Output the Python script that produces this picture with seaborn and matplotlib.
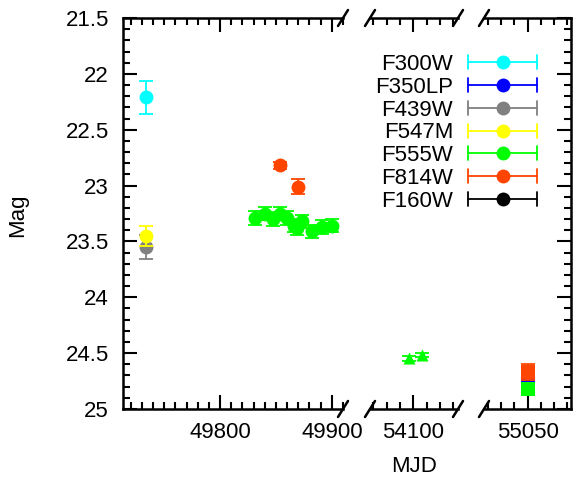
import matplotlib
matplotlib.use("Agg")
import matplotlib.pyplot as plt
import seaborn as sns
import numpy as np
from matplotlib.lines import Line2D
from matplotlib.legend_handler import HandlerBase
from matplotlib.ticker import MultipleLocator

# ---------------- data ----------------
filters = ["F300W", "F350LP", "F439W", "F547M", "F555W", "F814W", "F160W"]
colors = ["#00FFFF", "#0000FF", "#808080", "#FFFF00", "#00FF00", "#FF4500", "#000000"]

# circles (HST/WFPC2 era)
f300w_mjd = [49734]
f300w_mag = [22.21]
f300w_err = [0.145]

f439w_mjd = [49734]
f439w_mag = [23.55]
f439w_err = [0.11]

f547m_mjd = [49734]
f547m_mag = [23.45]
f547m_err = [0.09]

f555w_mjd = [49831, 49840, 49847, 49854, 49860, 49866, 49869, 49873, 49882, 49891, 49900]
f555w_mag = [23.29, 23.25, 23.30, 23.25, 23.29, 23.36, 23.38, 23.32, 23.41, 23.37, 23.36]
f555w_err = [0.06, 0.06, 0.06, 0.06, 0.06, 0.06, 0.06, 0.06, 0.06, 0.06, 0.06]

f814w_mjd = [49854, 49870]
f814w_mag = [22.82, 23.01]
f814w_err = [0.035, 0.065]

# triangles (ACS era)
f555w_tri_mjd = [54097, 54106.3]
f555w_tri_mag = [24.547, 24.517]
f555w_tri_err = [0.02, 0.02]

# squares (WFC3 era)
f350lp_sq_mjd = [55050]
f350lp_sq_mag = [24.795]
f350lp_sq_err = [0.03]

f555w_sq_mjd = [55050]
f555w_sq_mag = [24.82]
f555w_sq_err = [0.03]

f814w_sq_mjd = [55050]
f814w_sq_mag = [24.67]
f814w_sq_err = [0.07]

f160w_mjd = []
f160w_mag = []
f160w_err = []

y_ticks = [21.5, 22, 22.5, 23, 23.5, 24, 24.5, 25]
y_tick_labels = ["21.5", "22", "22.5", "23", "23.5", "24", "24.5", "25"]

# ---------------- style ----------------
sns.set_theme(style="ticks")
plt.rcParams['font.family'] = ['Liberation Sans', 'DejaVu Sans']
plt.rcParams['font.size'] = 16
for k in ["text.color", "axes.labelcolor", "xtick.color", "ytick.color", "axes.edgecolor"]:
    plt.rcParams[k] = "black"

W, H = 574, 479
fig = plt.figure(figsize=(W / 100, H / 100), dpi=100)
fig.patch.set_facecolor("white")

top_px, bot_px = 18, 409
panels = [(123, 343, 49713, 49910), (370, 458, 54067.5, 54133.6), (484, 571, 55017.3, 55082.7)]
axes = []
for (x0, x1, m0, m1) in panels:
    ax = fig.add_axes([x0 / W, 1 - bot_px / H, (x1 - x0) / W, (bot_px - top_px) / H])
    ax.set_xlim(m0, m1)
    ax.set_ylim(25, 21.5)
    ax.set_facecolor("white")
    axes.append(ax)

ax1, ax2, ax3 = axes

series = [
    # (mjd, mag, err, color, marker, size)
    (f300w_mjd, f300w_mag, f300w_err, colors[0], "o", 100),
    (f350lp_sq_mjd, f350lp_sq_mag, f350lp_sq_err, colors[1], "s", 115),
    (f439w_mjd, f439w_mag, f439w_err, colors[2], "o", 100),
    (f547m_mjd, f547m_mag, f547m_err, colors[3], "o", 100),
    (f555w_mjd, f555w_mag, f555w_err, colors[4], "o", 100),
    (f555w_tri_mjd, f555w_tri_mag, f555w_tri_err, colors[4], "^", 75),
    (f555w_sq_mjd, f555w_sq_mag, f555w_sq_err, colors[4], "s", 115),
    (f814w_mjd, f814w_mag, f814w_err, colors[5], "o", 100),
    (f814w_sq_mjd, f814w_sq_mag, f814w_sq_err, colors[5], "s", 115),
    (f160w_mjd, f160w_mag, f160w_err, colors[6], "o", 100),
]

for ax in axes:
    z = 2
    for (mjd, mag, err, c, mk, s) in series:
        if len(mjd) == 0:
            continue
        ax.errorbar(mjd, mag, yerr=err, fmt="none", ecolor=c, elinewidth=1.3,
                    capsize=5, capthick=1.3, zorder=z)
        sns.scatterplot(x=mjd, y=mag, ax=ax, color=c, marker=mk, s=s,
                        linewidth=0, zorder=z + 0.5, legend=False)
        z += 1

# spines & ticks
for i, ax in enumerate(axes):
    for sp in ax.spines.values():
        sp.set_linewidth(1.8)
        sp.set_color("black")
    ax.spines["right"].set_visible(i == 2)
    ax.spines["left"].set_visible(i == 0)
    ax.xaxis.set_minor_locator(MultipleLocator(10))
    ax.tick_params(axis="x", which="both", direction="in", top=True, bottom=True,
                   width=1.5, colors="black", labelsize=16, pad=9)
    ax.tick_params(axis="x", which="major", length=10)
    ax.tick_params(axis="x", which="minor", length=5)
    ax.set_xlabel("")
    ax.set_ylabel("")

ax1.set_xticks([49800, 49900])
ax1.set_xticklabels(["49800", "49900"])
ax2.set_xticks([54100])
ax2.set_xticklabels(["54100"])
ax3.set_xticks([55050])
ax3.set_xticklabels(["55050"])

ax1.set_yticks(y_ticks)
ax1.set_yticklabels(y_tick_labels)
ax1.yaxis.set_minor_locator(MultipleLocator(0.1))
ax1.tick_params(axis="y", which="both", direction="in", left=True, right=False,
                width=1.5, labelsize=16, pad=10, colors="black")
ax1.tick_params(axis="y", which="major", length=10)
ax1.tick_params(axis="y", which="minor", length=5)

ax2.tick_params(axis="y", which="both", left=False, right=False, labelleft=False)

ax3.set_yticks(y_ticks)
ax3.yaxis.set_minor_locator(MultipleLocator(0.1))
ax3.tick_params(axis="y", which="both", direction="in", left=False, right=True,
                labelleft=False, labelright=False, width=1.5, colors="black")
ax3.tick_params(axis="y", which="major", length=10)
ax3.tick_params(axis="y", which="minor", length=5)

# break marks
dx, dy = 5 / W, 8 / H
for xpx in [343, 370, 458, 484]:
    for ypx in [top_px, bot_px]:
        xf, yf = xpx / W, 1 - ypx / H
        fig.add_artist(Line2D([xf - dx, xf + dx], [yf - dy, yf + dy], color="black", lw=1.8))

# labels
fig.text(18 / W, 1 - 215 / H, "Mag", rotation=90, ha="center", va="center", fontsize=16, color="black")
fig.text(414 / W, 1 - 467 / H, "MJD", ha="center", va="center", fontsize=16, color="black")


# legend
class HandlerHErr(HandlerBase):
    def create_artists(self, legend, orig_handle, xdescent, ydescent, width, height, fontsize, trans):
        c = orig_handle.get_color()
        y = height / 2 - ydescent
        x0, x1 = -xdescent, width - xdescent
        cap = 5
        arts = [
            Line2D([x0, x1], [y, y], color=c, lw=1.3, transform=trans),
            Line2D([x0, x0], [y - cap, y + cap], color=c, lw=1.3, transform=trans),
            Line2D([x1, x1], [y - cap, y + cap], color=c, lw=1.3, transform=trans),
            Line2D([(x0 + x1) / 2], [y], marker="o", ms=10, color=c, ls="none",
                   mew=0, transform=trans),
        ]
        return arts


handles = [Line2D([], [], color=c) for c in colors]
leg = fig.legend(handles, filters, handler_map={Line2D: HandlerHErr()},
                 loc="upper right", bbox_to_anchor=(537 / W, 1 - 54 / H),
                 frameon=False, markerfirst=False, fontsize=16,
                 handlelength=3.1, handletextpad=0.68, labelspacing=0.08,
                 borderpad=0, borderaxespad=0)
for t in leg.get_texts():
    t.set_color("black")

fig.savefig("out.png", dpi=100)
